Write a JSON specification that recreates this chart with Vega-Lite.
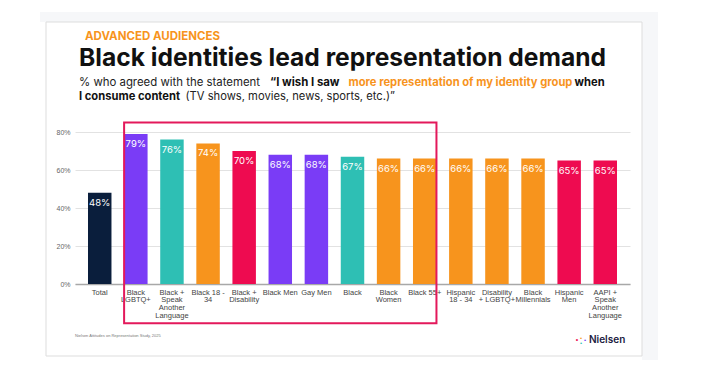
{
  "$schema": "https://vega.github.io/schema/vega-lite/v6.json",
  "width": 555,
  "height": 152,
  "autosize": {"type": "none"},
  "padding": {"left": 75, "top": 132, "right": 78, "bottom": 89},
  "background": "white",
  "config": {
    "view": {"stroke": null},
    "font": "Liberation Sans",
    "axisX": {
      "title": null, "labelAngle": 0, "ticks": false, "grid": false,
      "domainColor": "#a8a8a8", "domainWidth": 1.5,
      "labelFontSize": 7.5, "labelColor": "#444", "labelLineHeight": 7.7,
      "labelPadding": 4, "labelBaseline": "top", "labelLimit": 60
    },
    "axisY": {
      "title": null, "ticks": false, "domain": false, "labelOverlap": false,
      "labelFontSize": 7, "labelColor": "#666",
      "labelPadding": 5, "gridColor": "#e2e2e2", "gridWidth": 1
    }
  },
  "datasets": {
    "bars": [
      {"category": "Total", "value": 48, "group": "Total"},
      {"category": "Black\nLGBTQ+", "value": 79, "group": "G1"},
      {"category": "Black +\nSpeak\nAnother\nLanguage", "value": 76, "group": "G2"},
      {"category": "Black 18 -\n34", "value": 74, "group": "G3"},
      {"category": "Black +\nDisability", "value": 70, "group": "G4"},
      {"category": "Black Men", "value": 68, "group": "G1"},
      {"category": "Gay Men", "value": 68, "group": "G1"},
      {"category": "Black", "value": 67, "group": "G2"},
      {"category": "Black\nWomen", "value": 66, "group": "G3"},
      {"category": "Black 55+", "value": 66, "group": "G3"},
      {"category": "Hispanic\n18 - 34", "value": 66, "group": "G3"},
      {"category": "Disability\n+ LGBTQ+", "value": 66, "group": "G3"},
      {"category": "Black\nMillennials", "value": 66, "group": "G3"},
      {"category": "Hispanic\nMen", "value": 65, "group": "G4"},
      {"category": "AAPI +\nSpeak\nAnother\nLanguage", "value": 65, "group": "G4"}
    ]
  },
  "layer": [
    {
      "data": {"values": [{}]},
      "mark": {"type": "rect", "x": -35, "x2": 583, "y": -120, "y2": -110, "fill": "#f6f7f9", "clip": false},
      "encoding": {}
    },
    {
      "data": {"values": [{}]},
      "mark": {"type": "rect", "x": 567, "x2": 583, "y": -120, "y2": 228, "fill": "#f6f7f9", "clip": false},
      "encoding": {}
    },
    {
      "data": {"values": [{}]},
      "mark": {"type": "rect", "x": -29, "x2": 567, "y": -110, "y2": 224, "fill": null, "fillOpacity": 0, "stroke": "#dddddd", "strokeWidth": 1, "clip": false},
      "encoding": {}
    },
    {
      "data": {"name": "bars"},
      "mark": {"type": "bar"},
      "encoding": {
        "x": {
          "field": "category", "type": "nominal", "sort": null,
          "scale": {"paddingInner": 0.35, "paddingOuter": 0.36},
          "axis": {"labelExpr": "split(datum.label, '\\n')"}
        },
        "y": {
          "field": "value", "type": "quantitative",
          "scale": {"domain": [0, 80], "nice": false},
          "axis": {"values": [0, 20, 40, 60, 80], "labelExpr": "datum.value + '%'"}
        },
        "color": {
          "field": "group", "type": "nominal", "legend": null,
          "scale": {"domain": ["Total", "G1", "G2", "G3", "G4"],
                    "range": ["#0a1e3c", "#7a3cf6", "#2ebfb4", "#f7941d", "#ee0b50"]}
        }
      }
    },
    {
      "data": {"name": "bars"},
      "mark": {"type": "text", "color": "white", "font": "Inter", "fontSize": 9.5, "fontWeight": 400, "dy": 13, "baseline": "alphabetic", "align": "center", "text": {"expr": "datum.value + '%'"}},
      "encoding": {
        "x": {"field": "category", "type": "nominal", "sort": null, "axis": {"labelExpr": "split(datum.label, '\\n')"}},
        "y": {"field": "value", "type": "quantitative", "axis": {"values": [0, 20, 40, 60, 80], "labelExpr": "datum.value + '%'"}}
      }
    },
    {
      "data": {"values": [{}]},
      "mark": {"type": "rect", "fill": null, "fillOpacity": 0, "stroke": "#e3195b", "strokeWidth": 2, "clip": false},
      "encoding": {
        "x": {"datum": "Black\nLGBTQ+", "bandPosition": 0, "axis": {"labelExpr": "split(datum.label, '\\n')"}},
        "x2": {"datum": "Black 55+", "bandPosition": 1},
        "y": {"datum": 85, "axis": {"values": [0, 20, 40, 60, 80], "labelExpr": "datum.value + '%'"}},
        "y2": {"datum": -20.7}
      }
    },
    {
      "data": {"values": [{}]},
      "mark": {"type": "text", "text": "ADVANCED AUDIENCES", "x": 10, "y": -92, "align": "left", "baseline": "alphabetic", "font": "Inter", "fontSize": 11.5, "fontWeight": "bold", "color": "#f7941d"},
      "encoding": {}
    },
    {
      "data": {"values": [{}]},
      "mark": {"type": "text", "text": "Black identities lead representation demand", "x": 4, "y": -66.3, "align": "left", "baseline": "alphabetic", "font": "Inter", "fontSize": 24.6, "fontWeight": "bold", "color": "#111111"},
      "encoding": {}
    },
    {
      "data": {"values": [{}]},
      "mark": {"type": "text", "text": "% who agreed with the statement", "x": 4, "y": -46.5, "align": "left", "baseline": "alphabetic", "font": "Inter", "fontSize": 11.4, "color": "#222222"},
      "encoding": {}
    },
    {
      "data": {"values": [{}]},
      "mark": {"type": "text", "text": "“I wish I saw", "x": 195, "y": -46.5, "align": "left", "baseline": "alphabetic", "font": "Inter", "fontSize": 11.4, "fontWeight": "bold", "color": "#111111"},
      "encoding": {}
    },
    {
      "data": {"values": [{}]},
      "mark": {"type": "text", "text": "more representation of my identity group", "x": 273.5, "y": -46.5, "align": "left", "baseline": "alphabetic", "font": "Inter", "fontSize": 11.2, "fontWeight": "bold", "color": "#f7941d"},
      "encoding": {}
    },
    {
      "data": {"values": [{}]},
      "mark": {"type": "text", "text": "when", "x": 499.5, "y": -46.5, "align": "left", "baseline": "alphabetic", "font": "Inter", "fontSize": 11.2, "fontWeight": "bold", "color": "#111111"},
      "encoding": {}
    },
    {
      "data": {"values": [{}]},
      "mark": {"type": "text", "text": "I consume content", "x": 4, "y": -32, "align": "left", "baseline": "alphabetic", "font": "Inter", "fontSize": 11.2, "fontWeight": "bold", "color": "#111111"},
      "encoding": {}
    },
    {
      "data": {"values": [{}]},
      "mark": {"type": "text", "text": "(TV shows, movies, news, sports, etc.)”", "x": 110.5, "y": -32, "align": "left", "baseline": "alphabetic", "font": "Inter", "fontSize": 11.2, "color": "#222222"},
      "encoding": {}
    },
    {
      "data": {"values": [{}]},
      "mark": {"type": "text", "text": "Nielsen Attitudes on Representation Study, 2025", "x": 0, "y": 205, "align": "left", "baseline": "alphabetic", "fontSize": 4, "color": "#777777"},
      "encoding": {}
    },
    {
      "data": {"values": [{}]},
      "mark": {"type": "text", "text": "•", "x": 502, "y": 210, "align": "center", "baseline": "alphabetic", "fontSize": 7, "color": "#ee0b50"},
      "encoding": {}
    },
    {
      "data": {"values": [{}]},
      "mark": {"type": "text", "text": "•", "x": 506, "y": 207.5, "align": "center", "baseline": "alphabetic", "fontSize": 6, "color": "#f7941d"},
      "encoding": {}
    },
    {
      "data": {"values": [{}]},
      "mark": {"type": "text", "text": "•", "x": 506, "y": 212.5, "align": "center", "baseline": "alphabetic", "fontSize": 6, "color": "#2ebfb4"},
      "encoding": {}
    },
    {
      "data": {"values": [{}]},
      "mark": {"type": "text", "text": "•", "x": 510, "y": 210, "align": "center", "baseline": "alphabetic", "fontSize": 6, "color": "#7a3cf6"},
      "encoding": {}
    },
    {
      "data": {"values": [{}]},
      "mark": {"type": "text", "text": "Nielsen", "x": 514, "y": 211, "align": "left", "baseline": "alphabetic", "font": "Inter", "fontSize": 10, "fontWeight": 600, "color": "#1b2040"},
      "encoding": {}
    }
  ]
}
